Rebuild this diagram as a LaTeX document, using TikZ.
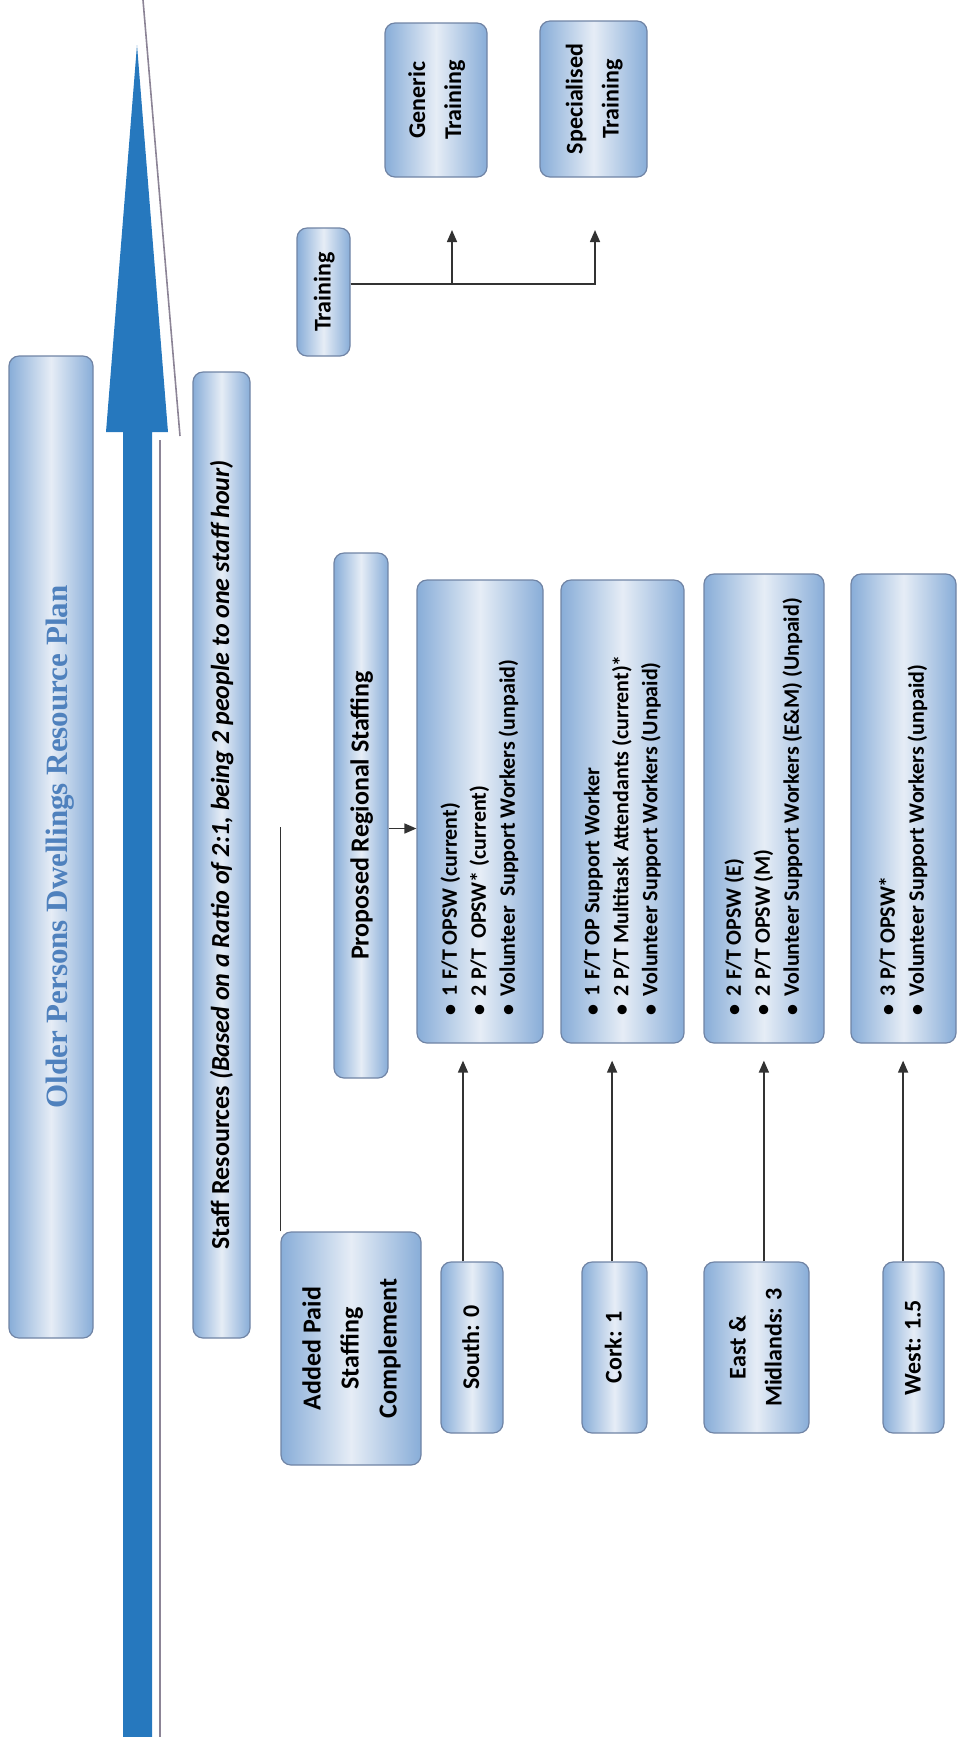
\documentclass[tikz,border=0pt]{standalone}
\usepackage{fontspec}
\setmainfont{Carlito}
\newfontfamily\titlefont{Liberation Serif}
\usepackage{tikz}
\usetikzlibrary{arrows.meta,positioning,calc}
\usepackage{xcolor}
\usepackage{graphicx}
\definecolor{BoxDark}{RGB}{136,173,216}
\definecolor{BoxLight}{RGB}{230,237,246}
\definecolor{BoxEdge}{RGB}{112,132,165}
\definecolor{ArrowBlue}{RGB}{38,120,190}
\definecolor{TitleBlue}{RGB}{79,129,189}
\definecolor{EdgeGray}{RGB}{140,132,150}
\definecolor{LineGray}{RGB}{50,50,50}
\newcommand{\vlab}[1]{\rotatebox{90}{\begin{tabular}{@{}c@{}}#1\end{tabular}}}
\newcommand{\vlist}[2]{\rotatebox{90}{\makebox[#1][l]{\begin{tabular}{@{}l@{}}#2\end{tabular}}}}
\newcommand{\bul}{\textbullet\hspace{4pt}}

\begin{document}
\begin{tikzpicture}[x=0.5pt,y=-0.5pt,
  box/.style={draw=BoxEdge,line width=0.6pt,rounded corners=5pt,inner sep=0pt,
              left color=BoxDark,right color=BoxDark,middle color=BoxLight,
              font=\bfseries\fontsize{12}{18}\selectfont},
  wide/.style={box,font=\bfseries\fontsize{13}{19}\selectfont},
  list/.style={box,font=\bfseries\fontsize{11}{14.5}\selectfont},
  arr/.style={-{Triangle[length=6pt,width=5pt]},line width=0.8pt,draw=LineGray},
]
\useasboundingbox (0,0) rectangle (961,1737);
\fill[ArrowBlue] (123,1737) -- (123,432) -- (106,432) -- (137,45) -- (168,432)
  -- (152,432) -- (152,1737) -- cycle;
\draw[EdgeGray,line width=0.8pt] (143,0) -- (180,436);
\draw[EdgeGray,line width=0.8pt] (160,440) -- (160,1737);

\node[box,minimum width=42pt,minimum height=491pt] (plan) at (51,847)
  {\vlab{\titlefont\color{TitleBlue}\fontsize{15.5}{18}\selectfont\rule{0pt}{22pt}Older Persons Dwellings Resource Plan}};
\node[wide,minimum width=28.5pt,minimum height=483pt] (staff) at (221.5,855)
  {\vlab{Staff Resources \textit{(Based on a Ratio of 2:1, being 2 people to one staff hour)}}};

\node[box,minimum width=26.5pt,minimum height=64pt] (train) at (323.5,292) {\vlab{Training}};
\node[box,minimum width=51pt,minimum height=77pt] (generic) at (436,100) {\vlab{Generic\\Training}};
\node[box,minimum width=53.5pt,minimum height=78pt] (special) at (593.5,99) {\vlab{Specialised\\Training}};
\coordinate (gentip) at (452,230);
\coordinate (spectip) at (595,230);
\draw[arr] ([yshift=4pt]train.east) -| (gentip);
\draw[arr] ([yshift=4pt]train.east) -| (spectip);

\node[wide,minimum width=27pt,minimum height=262.5pt] (prs) at (361,815.5) {\vlab{Proposed Regional Staffing}};
\node[list,minimum width=63pt,minimum height=231.5pt] (sbul) at (480,811.5)
  {\vlist{203.5pt}{\bul 1 F/T OPSW (current)\\ \bul 2 P/T\ \ OPSW* (current)\\ \bul Volunteer\ \ Support Workers (unpaid)}};
\node[list,minimum width=61.5pt,minimum height=231.5pt] (cbul) at (622.5,811.5)
  {\vlist{203.5pt}{\bul 1 F/T OP Support Worker\\ \bul 2 P/T Multitask Attendants (current)*\\ \bul Volunteer Support Workers (Unpaid)}};
\node[list,minimum width=60pt,minimum height=234.5pt] (ebul) at (764,808.5)
  {\vlist{206.5pt}{\bul 2 F/T OPSW (E)\\ \bul 2 P/T OPSW (M)\\ \bul Volunteer Support Workers (E\&M) (Unpaid)}};
\node[list,minimum width=52.5pt,minimum height=234.5pt] (wbul) at (903.5,808.5)
  {\vlist{206.5pt}{\bul 3 P/T OPSW*\\ \bul Volunteer Support Workers (unpaid)}};
\draw[arr] ([yshift=-6.5pt]prs.east) -- ([yshift=-6.5pt]prs.east -| sbul.west);

\node[wide,minimum width=70pt,minimum height=116.5pt] (addpaid) at (351,1348.5)
  {\vlab{Added Paid\\Staffing\\Complement}};
\coordinate (linetop) at (280,827);
\draw[LineGray,line width=0.8pt] (addpaid.north west) -- (addpaid.north west |- linetop);

\node[box,minimum width=31pt,minimum height=85.5pt] (south) at (472,1347.5) {\vlab{South: 0}};
\node[box,minimum width=32.5pt,minimum height=85.5pt] (cork) at (614.5,1347.5) {\vlab{Cork: 1}};
\node[box,minimum width=52.5pt,minimum height=85.5pt] (eastmid) at (756.5,1347.5) {\vlab{East \&\\Midlands: 3}};
\node[box,minimum width=30.5pt,minimum height=85.5pt] (west) at (913.5,1347.5) {\vlab{West: 1.5}};
\draw[arr,shorten >=8.5pt] ([xshift=-4.5pt]south.north) -- ([xshift=-4.5pt]south.north |- sbul.south);
\draw[arr,shorten >=8.5pt] ([xshift=-1.2pt]cork.north) -- ([xshift=-1.2pt]cork.north |- cbul.south);
\draw[arr,shorten >=8.5pt] ([xshift=3.7pt]eastmid.north) -- ([xshift=3.7pt]eastmid.north |- ebul.south);
\draw[arr,shorten >=8.5pt] ([xshift=-5.2pt]west.north) -- ([xshift=-5.2pt]west.north |- wbul.south);
\end{tikzpicture}
\end{document}
